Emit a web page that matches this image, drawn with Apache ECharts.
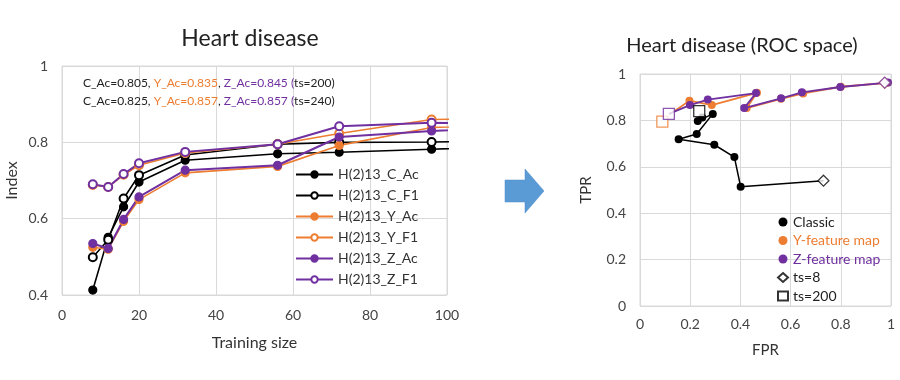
<!DOCTYPE html>
<html><head><meta charset="utf-8">
<script src="https://cdn.jsdelivr.net/npm/echarts@6/dist/echarts.min.js"></script>
<style>html,body{margin:0;padding:0;background:#fff}#c{width:900px;height:380px}</style>
</head><body><div id="c"></div>
<script>
// ---- Left chart data (training size vs index) ----
const trainingSize = [8, 12, 16, 20, 32, 56, 72, 96, 120];
const C_Ac = [0.413, 0.551, 0.631, 0.696, 0.753, 0.770, 0.774, 0.782, 0.790];
const C_F1 = [0.499, 0.545, 0.653, 0.714, 0.767, 0.795, 0.800, 0.801, 0.803];
const Y_Ac = [0.525, 0.520, 0.593, 0.650, 0.720, 0.737, 0.792, 0.839, 0.845];
const Y_F1 = [0.688, 0.683, 0.715, 0.740, 0.772, 0.795, 0.823, 0.860, 0.862];
const Z_Ac = [0.535, 0.522, 0.598, 0.657, 0.727, 0.740, 0.814, 0.830, 0.838];
const Z_F1 = [0.690, 0.683, 0.717, 0.745, 0.775, 0.795, 0.842, 0.851, 0.850];
const leftXTicks = [0, 20, 40, 60, 80, 100];
const leftYTicks = [0.4, 0.6, 0.8, 1];

// ---- Right chart data (ROC space: [FPR, TPR]) ----
const classicPath = [[0.731,0.540],[0.401,0.514],[0.376,0.642],[0.296,0.695],[0.154,0.719],[0.226,0.741],[0.290,0.828],[0.230,0.797],[0.248,0.812]];
const yPath = [[0.975,0.962],[0.985,0.962],[0.800,0.945],[0.650,0.916],[0.562,0.893],[0.425,0.853],[0.466,0.919],[0.286,0.866],[0.197,0.885],[0.118,0.826]];
const zPath = [[0.975,0.963],[0.988,0.963],[0.798,0.944],[0.645,0.921],[0.562,0.895],[0.415,0.853],[0.462,0.918],[0.270,0.890],[0.199,0.866]];
const classicTs200 = [0.236, 0.840];
const yTs200 = [0.089, 0.795];
const zTs200 = [0.115, 0.828];

const BLACK = '#000000', ORANGE = '#ED7D31', PURPLE = '#7030A0';
const FONT = 'Lato';

const chart = echarts.init(document.getElementById('c'));

function lineSeries(name, data, color, hollow, width) {
  return {
    name, type: 'line', xAxisIndex: 0, yAxisIndex: 0,
    data: trainingSize.map((t, i) => [t, data[i]]),
    symbol: hollow ? 'emptyCircle' : 'circle', symbolSize: 8,
    lineStyle: { color, width: width || 1.6 },
    itemStyle: { color, borderColor: color, borderWidth: 1.2 },
    clip: true, z: 3
  };
}

const option = {
  backgroundColor: '#fff',
  animation: false,
  textStyle: { fontFamily: FONT },
  title: [
    { text: 'Heart disease', left: 245, top: 22, textAlign: 'center',
      textStyle: { fontFamily: FONT, fontSize: 23, fontWeight: 'normal', color: '#222' } },
    { text: 'Heart disease (ROC space)', left: 737, top: 31, textAlign: 'center',
      textStyle: { fontFamily: FONT, fontSize: 20, fontWeight: 'normal', color: '#222' } }
  ],
  grid: [
    { left: 62, top: 66, width: 385, height: 229, show: true, borderColor: '#d9d9d9', borderWidth: 1 },
    { left: 640, top: 74, width: 251, height: 232, show: true, borderColor: '#d9d9d9', borderWidth: 1 }
  ],
  xAxis: [
    { type: 'value', gridIndex: 0, min: leftXTicks[0], max: leftXTicks[leftXTicks.length-1], interval: 20,
      name: 'Training size', nameLocation: 'middle', nameGap: 40,
      nameTextStyle: { fontFamily: FONT, fontSize: 16, color: '#333' },
      axisLine: { show: false }, axisTick: { show: false },
      axisLabel: { fontFamily: FONT, fontSize: 14, color: '#444', margin: 13 },
      splitLine: { lineStyle: { color: '#d9d9d9' } } },
    { type: 'value', gridIndex: 1, min: 0, max: 1, interval: 0.2,
      name: 'FPR', nameLocation: 'middle', nameGap: 37,
      nameTextStyle: { fontFamily: FONT, fontSize: 15, color: '#333' },
      axisLine: { show: false }, axisTick: { show: false },
      axisLabel: { fontFamily: FONT, fontSize: 14, color: '#444', margin: 11 },
      splitLine: { lineStyle: { color: '#d9d9d9' } } }
  ],
  yAxis: [
    { type: 'value', gridIndex: 0, min: leftYTicks[0], max: leftYTicks[leftYTicks.length-1], interval: 0.2,
      name: 'Index', nameLocation: 'middle', nameGap: 42,
      nameTextStyle: { fontFamily: FONT, fontSize: 16, color: '#333' },
      axisLine: { show: false }, axisTick: { show: false },
      axisLabel: { fontFamily: FONT, fontSize: 14, color: '#444', margin: 14 },
      splitLine: { lineStyle: { color: '#d9d9d9' } } },
    { type: 'value', gridIndex: 1, min: 0, max: 1, interval: 0.2,
      name: 'TPR', nameLocation: 'middle', nameGap: 46,
      nameTextStyle: { fontFamily: FONT, fontSize: 15, color: '#333' },
      axisLine: { show: false }, axisTick: { show: false },
      axisLabel: { fontFamily: FONT, fontSize: 14, color: '#444', margin: 14 },
      splitLine: { lineStyle: { color: '#d9d9d9' } } }
  ],
  legend: [
    { orient: 'vertical', left: 290, top: 161, itemWidth: 37, itemHeight: 8, itemGap: 4,
      textStyle: { fontFamily: FONT, fontSize: 14, color: '#333', lineHeight: 17 },
      data: ['H(2)13_C_Ac','H(2)13_C_F1','H(2)13_Y_Ac','H(2)13_Y_F1','H(2)13_Z_Ac','H(2)13_Z_F1'] },
    { orient: 'vertical', left: 772, top: 210, itemWidth: 10, itemHeight: 9, itemGap: 4.5,
      textStyle: { fontFamily: FONT, fontSize: 14, color: '#333', lineHeight: 13 },
      data: [
        { name: 'Classic', icon: 'circle', textStyle: { color: '#222' } },
        { name: 'Y-feature map', icon: 'circle', textStyle: { color: ORANGE } },
        { name: 'Z-feature map', icon: 'circle', textStyle: { color: PURPLE } },
        { name: 'ts=8', icon: 'diamond', textStyle: { color: '#222' } },
        { name: 'ts=200', icon: 'rect', textStyle: { color: '#222' } }
      ] }
  ],
  graphic: [
    { type: 'text', left: 83, top: 74, z: 10,
      style: { rich: {
        k: { fill: '#222', fontFamily: FONT, fontSize: 12 },
        o: { fill: ORANGE, fontFamily: FONT, fontSize: 12 },
        p: { fill: PURPLE, fontFamily: FONT, fontSize: 12 } },
        text: '{k|C_Ac=0.805, }{o|Y_Ac=0.835}{k|, }{p|Z_Ac=0.845 (}{k|ts=200)}\n{k|C_Ac=0.825, }{o|Y_Ac=0.857}{k|, }{p|Z_Ac=0.857 (}{k|ts=240)}',
        lineHeight: 18 } },
    { type: 'polygon', z: 10,
      shape: { points: [[505,180],[525,180],[525,169],[544,191],[525,213],[525,202],[505,202]] },
      style: { fill: '#5B9BD5', stroke: '#4A89C8', lineWidth: 0.5 } }
  ],
  series: [
    lineSeries('H(2)13_C_Ac', C_Ac, BLACK, false),
    lineSeries('H(2)13_C_F1', C_F1, BLACK, true),
    lineSeries('H(2)13_Y_Ac', Y_Ac, ORANGE, false),
    lineSeries('H(2)13_Y_F1', Y_F1, ORANGE, true),
    lineSeries('H(2)13_Z_Ac', Z_Ac, PURPLE, false, 2),
    lineSeries('H(2)13_Z_F1', Z_F1, PURPLE, true, 2),
    { name: 'Classic', type: 'line', xAxisIndex: 1, yAxisIndex: 1,
      data: classicPath.map((p, i) => i === 0 ? { value: p, symbol: 'none' } : p),
      symbol: 'circle', symbolSize: 8, lineStyle: { color: BLACK, width: 1.5 },
      itemStyle: { color: BLACK }, z: 3 },
    { name: 'Y-feature map', type: 'line', xAxisIndex: 1, yAxisIndex: 1,
      data: yPath.map((p, i) => (i === 0 || i === yPath.length - 1) ? { value: p, symbol: 'none' } : p),
      symbol: 'circle', symbolSize: 8, lineStyle: { color: ORANGE, width: 1.8 },
      itemStyle: { color: ORANGE }, z: 3 },
    { name: 'Z-feature map', type: 'line', xAxisIndex: 1, yAxisIndex: 1,
      data: zPath.concat([zTs200]).map((p, i) => (i === 0 || i === zPath.length) ? { value: p, symbol: 'none' } : p),
      symbol: 'circle', symbolSize: 8, lineStyle: { color: PURPLE, width: 1.8 },
      itemStyle: { color: PURPLE }, z: 4 },
    { name: 'ts=8', type: 'scatter', xAxisIndex: 1, yAxisIndex: 1,
      symbol: 'diamond', symbolSize: 11,
      itemStyle: { color: '#fff', borderColor: BLACK, borderWidth: 1.2 },
      data: [
        { value: yPath[0], itemStyle: { color: '#fff', borderColor: ORANGE } },
        { value: zPath[0], itemStyle: { color: '#fff', borderColor: PURPLE } },
        { value: classicPath[0] }
      ], z: 5 },
    { name: 'ts=200', type: 'scatter', xAxisIndex: 1, yAxisIndex: 1,
      symbol: 'rect', symbolSize: 11,
      itemStyle: { color: '#fff', borderColor: BLACK, borderWidth: 1.3 },
      data: [
        { value: classicTs200 },
        { value: yTs200, itemStyle: { color: '#fff', borderColor: ORANGE } },
        { value: zTs200, itemStyle: { color: '#fff', borderColor: PURPLE } }
      ], z: 5 }
  ]
};
chart.setOption(option);
</script></body></html>
